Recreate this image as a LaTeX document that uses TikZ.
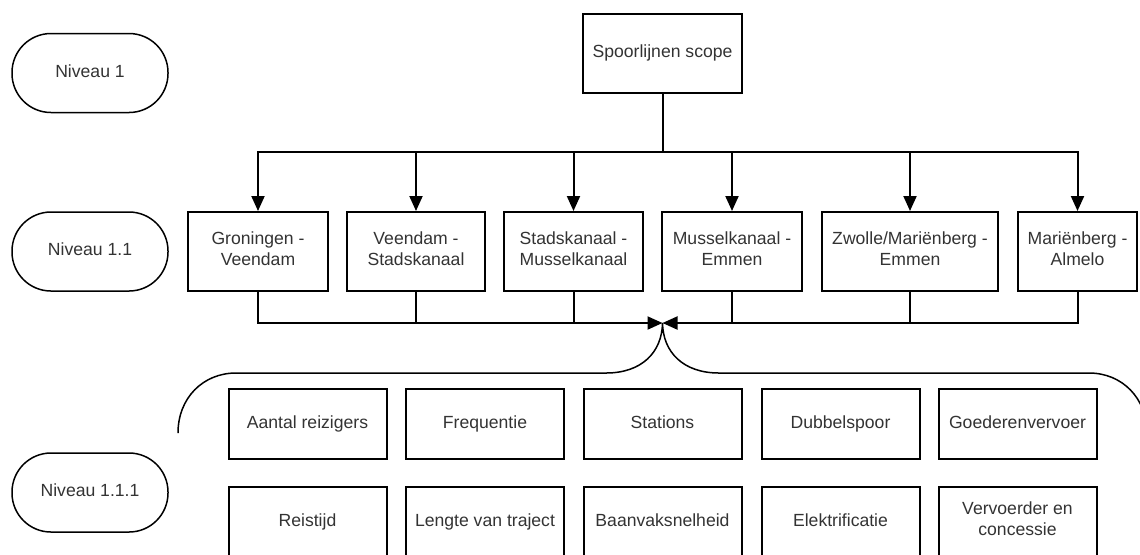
\documentclass[tikz,border=0pt]{standalone}
\usepackage{fontspec}
\setmainfont{Liberation Sans}
\usetikzlibrary{arrows.meta}

\begin{document}
\begin{tikzpicture}[x=0.5pt, y=-0.5pt,
  every node/.style={font=\fontsize{8.8}{10.4}\selectfont, text=black!80, align=center, inner sep=0pt,
    execute at begin node=\strut, execute at end node=\strut},
  level/.style={draw, line width=0.75pt, rounded corners=19.5pt, minimum width=78pt, minimum height=39.5pt},
  route/.style={draw, line width=1pt, minimum height=39.5pt},
  item/.style={draw, line width=1pt, minimum width=79pt, minimum height=35pt},
  link/.style={line width=1pt},
  >={Triangle[length=7.5pt,width=6.5pt]}]
  \clip (0,0) rectangle (1140,554);

  % levels
  \node[level] (lvl1)   at (90,73)    {Niveau 1};
  \node[level] (lvl11)  at (90,251.5) {Niveau 1.1};
  \node[level] (lvl111) at (90,492.5) {Niveau 1.1.1};

  \node[route, minimum width=79.5pt] (scope) at (662.5,53) {Spoorlijnen scope};
  \coordinate (split) at (662.5,152);
  \coordinate (join)  at (662.5,323);

  % trajecten
  \foreach \n/\x/\w/\t in {gv/258/140/{Groningen -\\Veendam},
                           vs/416/138/{Veendam -\\Stadskanaal},
                           sm/573.5/139/{Stadskanaal -\\Musselkanaal},
                           me/732/140/{Musselkanaal -\\Emmen},
                           ze/910/176/{Zwolle/Mariënberg -\\Emmen},
                           ma/1077.5/119/{Mariënberg -\\Almelo}}
  {
    \node[route, minimum width=\w*0.5pt] (\n) at (\x,251.5) {\t};
    \draw[link,->] (split) -| (\n.north);
    \draw[link] (\n.south) -- (\n.south |- join);
  }
  \draw[link] (scope.south) -- (split);
  \draw[link,->] (gv.south) |- (join);
  \draw[link,->] (ma.south) |- (join);

  % accolade
  \draw[line width=0.75pt] (178,433) .. controls (178,398) and (203,373) .. (236,373)
    -- (606,373) .. controls (642,373) and (662,352) .. (join)
    .. controls (663,352) and (683,373) .. (719,373)
    -- (1089,373) .. controls (1122,373) and (1147,398) .. (1147,433);

  % criteria
  \foreach \n/\x/\t in {aantal/307.5/Aantal reizigers, freq/485/Frequentie,
                        stations/662.5/Stations, dubbel/840.5/Dubbelspoor,
                        goederen/1017.5/Goederenvervoer}
    \node[item] (\n) at (\x,424) {\t};
  \foreach \n/\x/\t in {reistijd/307.5/Reistijd, lengte/485/Lengte van traject,
                        baanvak/662.5/Baanvaksnelheid, elektr/840.5/Elektrificatie,
                        vervoerder/1017.5/{Vervoerder en\\concessie}}
    \node[item] (\n) at (\x,522) {\t};
\end{tikzpicture}
\end{document}
